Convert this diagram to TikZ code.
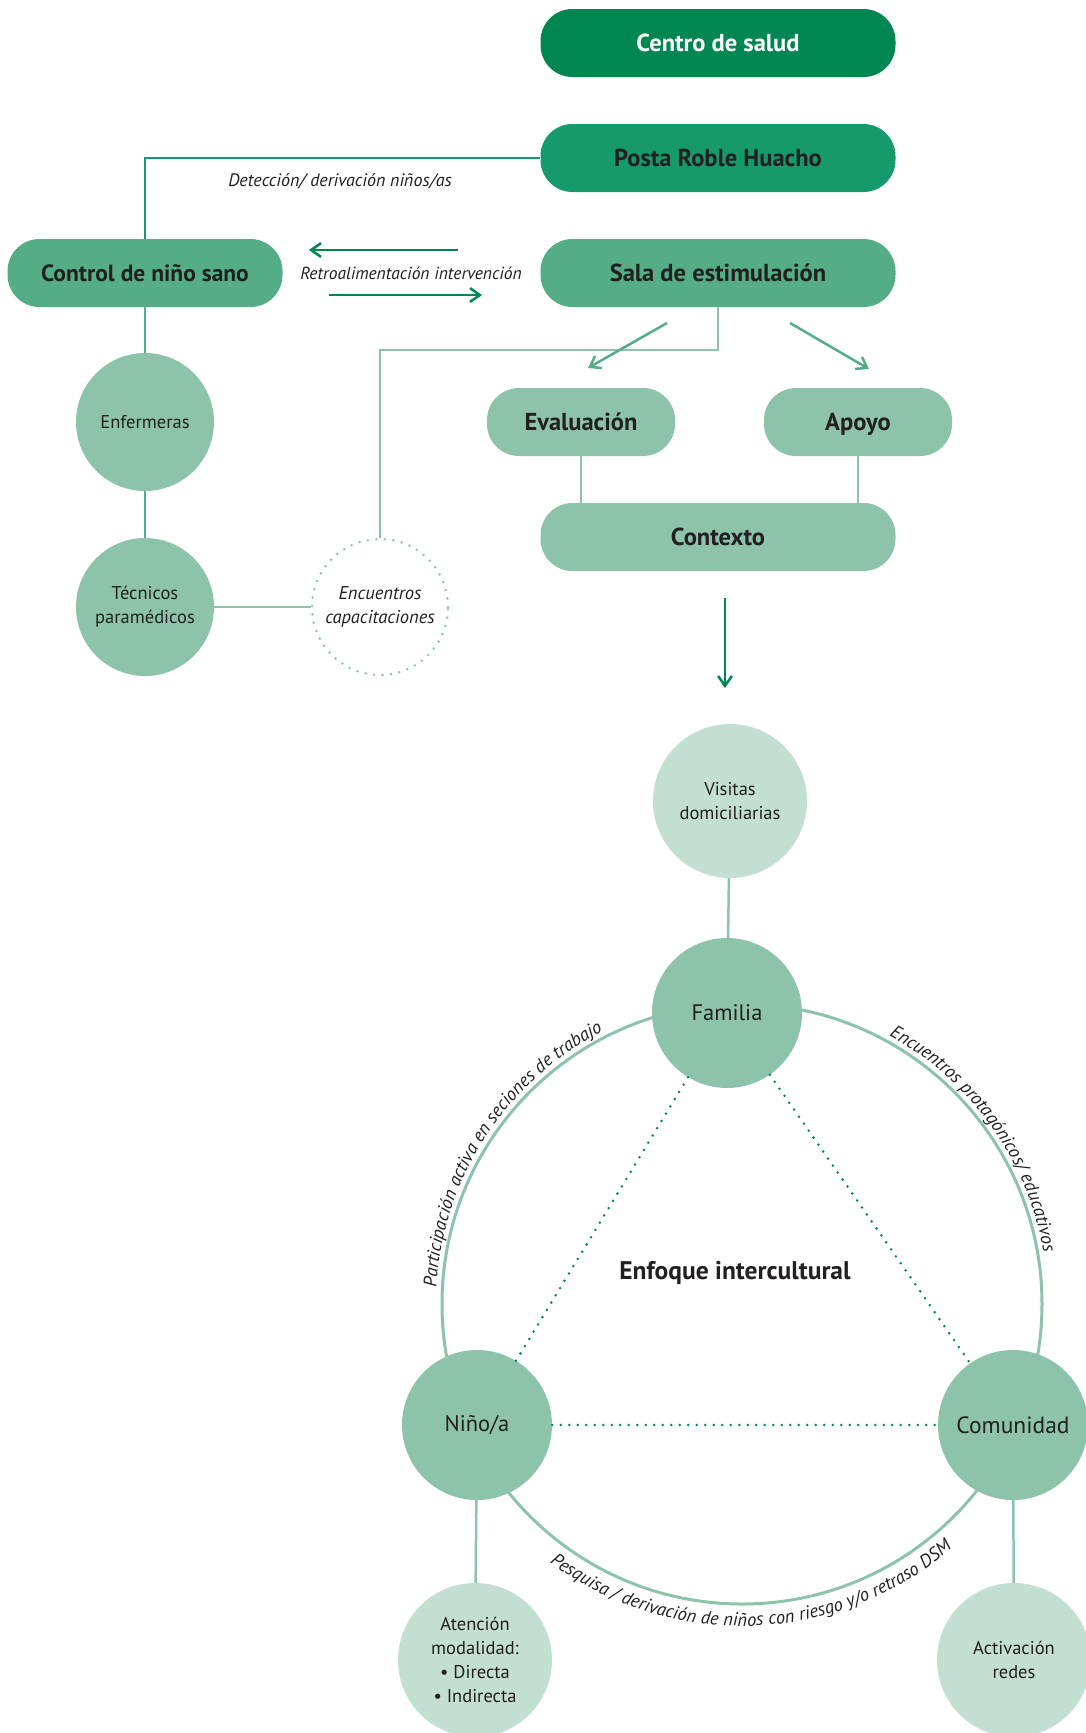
\documentclass[tikz,border=0pt]{standalone}
\usepackage{fontspec}
\setmainfont{PT Sans}
\usetikzlibrary{arrows.meta, positioning, decorations.text}
\definecolor{deep}{RGB}{0,135,81}
\definecolor{posta}{RGB}{22,154,107}
\definecolor{mid}{RGB}{85,173,136}
\definecolor{soft}{RGB}{141,195,170}
\definecolor{pale}{RGB}{194,223,209}
\definecolor{ink}{RGB}{35,31,32}

\begin{document}
\begin{tikzpicture}[x=1pt, y=1pt,
  pill/.style={rectangle, rounded corners=32pt, minimum width=355pt, minimum height=68pt,
    inner sep=0pt, text height=17pt, text depth=0pt, text=ink,
    font=\fontsize{24.5}{26}\selectfont\bfseries},
  short pill/.style={pill, minimum width=188pt},
  disc/.style={circle, inner sep=0pt, align=center, text=ink},
  note/.style={text=ink, font=\fontsize{18}{20}\selectfont\itshape},
  link/.style={draw=soft, line width=2.5pt},
  dots/.style={line width=2.8pt, line cap=round, dash pattern=on 0pt off 8.5pt},
  barb/.style={line width=2.5pt, -{Straight Barb[angle=70:12pt, line width=2.5pt]}},
  arclabel/.style={decorate, decoration={text along path, text align=center,
    text={|\fontsize{18.5}{18}\selectfont\itshape\color{ink}|#1}}}
]
\useasboundingbox (0,0) rectangle (1086,-1733);

% upper part
\node[pill, fill=deep, text=white] (centro) at (718,-43) {Centro de salud};
\node[pill, fill=posta] (posta) at (718,-158) {Posta Roble Huacho};
\node[pill, fill=mid] (sala) at (718,-273) {Sala de estimulación};
\node[pill, fill=mid, minimum width=275pt, font=\fontsize{23.5}{26}\selectfont\bfseries] (ctrl) at (145,-273) {Control de niño sano};
\node[short pill, fill=soft] (eval) at (581,-422) {Evaluación};
\node[short pill, fill=soft] (apoyo) at (858,-422) {Apoyo};
\node[pill, fill=soft] (ctx) at (718,-537) {Contexto};

\node[disc, fill=soft, minimum size=138pt, font=\fontsize{18.5}{24}\selectfont] (enf) at (145,-422) {Enfermeras};
\node[disc, fill=soft, minimum size=138pt, font=\fontsize{18.5}{24}\selectfont] (tec) at (145,-607) {Técnicos\\paramédicos};
\node[disc, draw=soft, dots, minimum size=136pt, font=\fontsize{18.5}{24}\selectfont\itshape] (enc) at (380,-607) {Encuentros\\capacitaciones};

\draw[draw=posta, line width=2.5pt] (posta.west) -| (ctrl.north);
\node[note] (detec) at (340,-181) {Detección/ derivación niños/as};

\coordinate (fbA) at (458,-250);
\coordinate (fbB) at (309,-250);
\coordinate (fbC) at (329,-295);
\coordinate (fbD) at (482,-295);
\draw[barb, deep] (fbA) -- (fbB);
\draw[barb, deep] (fbC) -- (fbD);
\node[note, font=\fontsize{17.5}{20}\selectfont\itshape] (retro) at (411,-273) {Retroalimentación intervención};

\draw[draw=mid, line width=2.5pt] (ctrl.south) -- (enf.north);
\draw[draw=mid, line width=2.5pt] (enf.south) -- (tec.north);
\draw[link] (tec.east) -- (enc.west);
\draw[link] (sala.south) -- ++(0,-43) -| (enc.north);

\coordinate (evA) at (667,-323);
\coordinate (evB) at (588,-368);
\coordinate (apA) at (790,-323);
\coordinate (apB) at (869,-369);
\draw[barb, mid] (evA) -- (evB);
\draw[barb, mid] (apA) -- (apB);
\draw[link] (eval.south) -- (eval.south |- ctx.north);
\draw[link] (apoyo.south) -- (apoyo.south |- ctx.north);

\coordinate (dnA) at (725,-598);
\coordinate (dnB) at (725,-688);
\draw[barb, deep] (dnA) -- (dnB);

% lower part
\coordinate (mid) at (742,-1304);
\draw[draw=soft, line width=3pt] (mid) circle[radius=300];

\node[disc, fill=pale, minimum size=154pt, font=\fontsize{18.5}{24}\selectfont] (visit) at (730,-801) {Visitas\\domiciliarias};
\node[disc, fill=soft, minimum size=150pt, font=\fontsize{22.5}{24}\selectfont] (fam) at (727,-1013) {Familia};
\node[disc, fill=soft, minimum size=150pt, font=\fontsize{22.5}{24}\selectfont] (nino) at (477,-1425) {Niño/a};
\node[disc, fill=soft, minimum size=150pt, font=\fontsize{23.5}{24}\selectfont] (com) at (1013,-1425) {Comunidad};
\node[disc, fill=pale, minimum size=154pt, font=\fontsize{18.5}{24}\selectfont] (aten) at (475,-1660) {Atención\\modalidad:\\\textbullet\ Directa\\\textbullet\ Indirecta};
\node[disc, fill=pale, minimum size=154pt, font=\fontsize{18.5}{24}\selectfont] (activ) at (1014,-1660) {Activación\\redes};

\draw[link] (visit) -- (fam);
\draw[link] (nino) -- (aten);
\draw[link] (com) -- (activ);

\draw[draw=deep, dots] (fam) -- (nino);
\draw[draw=deep, dots] (fam) -- (com);
\draw[draw=deep, dots] (nino) -- (com);

\node[text=ink, font=\fontsize{25.5}{26}\selectfont\bfseries] (enfoque) at (735,-1273) {Enfoque intercultural};

\path[arclabel={Participación activa en seciones de trabajo}]
  (mid) ++(179:306) arc[start angle=179, end angle=115, radius=306];
\path[arclabel={Encuentros protagónicos/ educativos}]
  (mid) ++(64:306) arc[start angle=64, end angle=7, radius=306];
\path[arclabel={Pesquisa / derivación de niños con riesgo y/o retraso DSM}]
  (mid) ++(231:322) arc[start angle=231, end angle=313, radius=322];
\end{tikzpicture}
\end{document}
